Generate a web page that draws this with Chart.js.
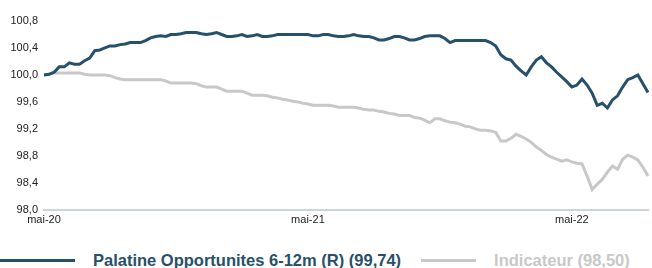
<!DOCTYPE html>
<html>
<head>
<meta charset="utf-8">
<script src="https://cdn.jsdelivr.net/npm/chart.js@4"></script>
<style>
  html, body { margin: 0; padding: 0; background: #fff; overflow: hidden; }
  #wrap { position: relative; width: 652px; height: 268px; }
  #chartBox { position: absolute; left: 0; top: 0; width: 652px; height: 237px; }
  #legend { position: absolute; left: 0; top: 251px; display: flex; align-items: center;
            font-family: 'Liberation Sans', Arial, sans-serif; font-weight: bold; font-size: 16.5px;
            white-space: nowrap; }
  #legend .sw { height: 3px; }
</style>
</head>
<body>
<div id="wrap">
  <div id="chartBox"><canvas id="perfChart"></canvas></div>
  <div id="legend"></div>
</div>
<script>
// Weekly performance, base 100 (mai-20 -> août-22)
const palatineValues = [
  100.00, 100.01, 100.04, 100.12, 100.12, 100.18, 100.16, 100.16, 100.21, 100.25,
  100.36, 100.37, 100.40, 100.43, 100.43, 100.45, 100.46, 100.48, 100.48, 100.48,
  100.51, 100.55, 100.57, 100.58, 100.57, 100.60, 100.60, 100.61, 100.63, 100.63,
  100.63, 100.61, 100.60, 100.61, 100.63, 100.60, 100.57, 100.57, 100.58, 100.60,
  100.57, 100.58, 100.60, 100.57, 100.57, 100.58, 100.60, 100.60, 100.60, 100.60,
  100.60, 100.60, 100.60, 100.58, 100.58, 100.60, 100.60, 100.58, 100.57, 100.57,
  100.58, 100.60, 100.58, 100.57, 100.57, 100.55, 100.52, 100.52, 100.54, 100.57,
  100.57, 100.55, 100.52, 100.52, 100.54, 100.57, 100.58, 100.58, 100.58, 100.54,
  100.48, 100.51, 100.51, 100.51, 100.51, 100.51, 100.51, 100.51, 100.48, 100.43,
  100.30, 100.24, 100.22, 100.13, 100.06, 100.00, 100.12, 100.22, 100.27, 100.18,
  100.12, 100.04, 99.97, 99.90, 99.82, 99.85, 99.94, 99.85, 99.73, 99.55,
  99.58, 99.51, 99.63, 99.69, 99.82, 99.93, 99.96, 100.00, 99.87, 99.74
];
const indicateurValues = [
  100.00, 100.01, 100.03, 100.03, 100.03, 100.03, 100.03, 100.03, 100.01, 100.00,
  100.00, 100.00, 100.00, 99.99, 99.96, 99.94, 99.93, 99.93, 99.93, 99.93,
  99.93, 99.93, 99.93, 99.93, 99.91, 99.88, 99.88, 99.88, 99.88, 99.88,
  99.87, 99.84, 99.82, 99.82, 99.82, 99.79, 99.76, 99.76, 99.76, 99.76,
  99.73, 99.70, 99.70, 99.70, 99.69, 99.67, 99.66, 99.64, 99.63, 99.61,
  99.60, 99.58, 99.57, 99.55, 99.55, 99.55, 99.55, 99.54, 99.52, 99.52,
  99.52, 99.52, 99.51, 99.49, 99.48, 99.48, 99.46, 99.45, 99.43, 99.42,
  99.40, 99.40, 99.40, 99.37, 99.36, 99.33, 99.29, 99.35, 99.35, 99.32,
  99.30, 99.29, 99.27, 99.24, 99.23, 99.20, 99.18, 99.18, 99.17, 99.15,
  99.02, 99.02, 99.06, 99.12, 99.09, 99.05, 99.00, 98.93, 98.88, 98.82,
  98.78, 98.75, 98.72, 98.74, 98.71, 98.69, 98.68, 98.50, 98.30, 98.38,
  98.45, 98.56, 98.65, 98.60, 98.75, 98.81, 98.78, 98.74, 98.63, 98.50
];
// x tick labels and the week they sit on
const tickLabels = ['mai-20', 'mai-21', 'mai-22'];
const tickWeeks = [0, 52, 104];
const seriesNames = ['Palatine Opportunites 6-12m (R) (99,74)', 'Indicateur (98,50)'];
const seriesColors = ['#27506a', '#c8c8c8'];

const weeks = palatineValues.map((v, i) => i);

const ctx = document.getElementById('perfChart').getContext('2d');
const perfChart = new Chart(ctx, {
  type: 'line',
  data: {
    labels: weeks,
    datasets: [
      {
        label: seriesNames[0],
        data: palatineValues,
        borderColor: seriesColors[0],
        borderWidth: 3,
        pointRadius: 0,
        tension: 0
      },
      {
        label: seriesNames[1],
        data: indicateurValues,
        borderColor: seriesColors[1],
        borderWidth: 3,
        pointRadius: 0,
        tension: 0
      }
    ]
  },
  options: {
    responsive: true,
    maintainAspectRatio: false,
    animation: false,
    layout: { padding: { top: 21, right: 1, left: 0, bottom: 6 } },
    scales: {
      x: {
        grid: { display: false, drawTicks: false },
        border: { display: true, color: '#ccd5da', width: 2 },
        ticks: {
          autoSkip: false,
          maxRotation: 0,
          padding: 4,
          color: '#222',
          font: { family: 'Liberation Sans', size: 11 },
          callback: function (value, index) {
            const k = tickWeeks.indexOf(index);
            return k >= 0 ? tickLabels[k] : '';
          }
        }
      },
      y: {
        min: 98,
        max: 100.8,
        grid: { display: false, drawTicks: false },
        border: { display: false },
        afterFit: function (scale) { scale.width = 44; },
        ticks: {
          stepSize: 0.4,
          padding: 6,
          color: '#222',
          font: { family: 'Liberation Sans', size: 11 },
          callback: function (value) {
            return value.toFixed(1).replace('.', ',');
          }
        }
      }
    },
    plugins: {
      tooltip: { enabled: false },
      legend: { display: false }
    }
  }
});

// Legend built from the chart's datasets
const swatchWidths = [75, 55];
const legendEl = document.getElementById('legend');
perfChart.data.datasets.forEach((ds, i) => {
  const sw = document.createElement('span');
  sw.className = 'sw';
  sw.style.width = swatchWidths[i] + 'px';
  sw.style.background = ds.borderColor;
  sw.style.marginRight = '18px';
  const txt = document.createElement('span');
  txt.textContent = ds.label;
  txt.style.color = ds.borderColor;
  if (i === 0) txt.style.marginRight = '20px';
  legendEl.appendChild(sw);
  legendEl.appendChild(txt);
});
</script>
</body>
</html>
